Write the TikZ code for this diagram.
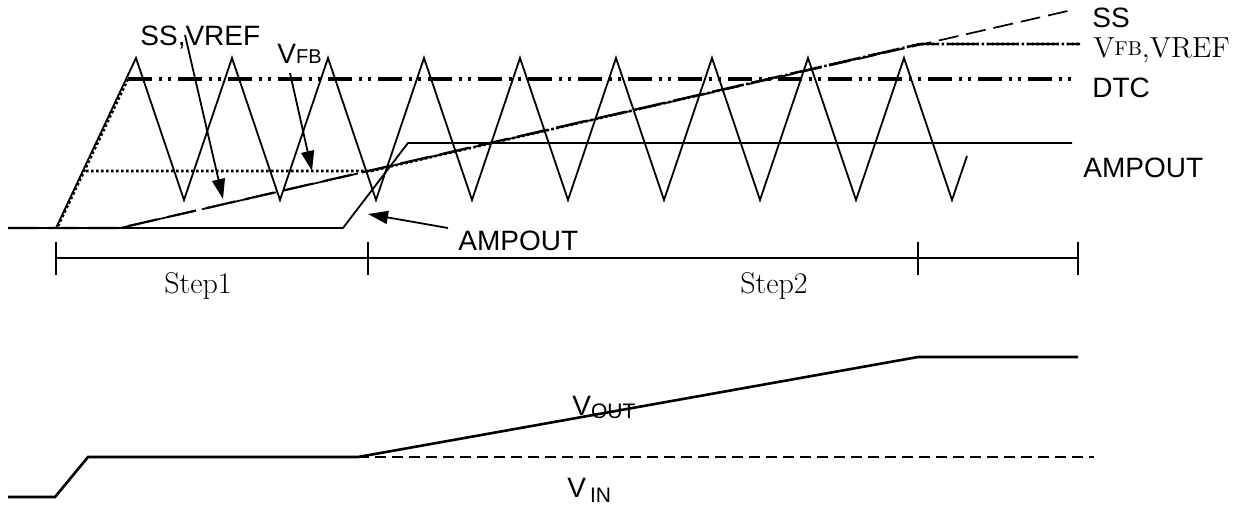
\documentclass[tikz,border=0pt]{standalone}
\usepackage{fontspec}
\newfontfamily\arial{Liberation Sans}
\usetikzlibrary{arrows.meta}
\begin{document}
\begin{tikzpicture}[x=0.5pt,y=-0.5pt,
  wave/.style={line width=0.9pt,line join=miter},
  dtcline/.style={line width=1.7pt,dash pattern=on 12pt off 3.5pt on 1.5pt off 3pt on 1.5pt off 3.5pt},
  ssline/.style={line width=0.85pt,dash pattern=on 10pt off 4pt},
  vrefline/.style={line width=1.1pt,dash pattern=on 15pt off 5pt},
  vfbline/.style={line width=1.3pt,dash pattern=on 1.3pt off 1.2pt},
  tl/.style={line width=0.9pt},
  outline/.style={line width=1.3pt,line join=miter},
  vinline/.style={line width=0.9pt,dash pattern=on 5.5pt off 3pt},
  callout/.style={line width=0.9pt,-{Triangle[length=10pt,width=6.5pt]}},
  sanslbl/.style={inner sep=0pt,anchor=base west,font=\arial\fontsize{14}{16}\selectfont},
  seriflbl/.style={inner sep=0pt,anchor=base west,font=\fontsize{14.5}{17}\selectfont},
  steplbl/.style={inner sep=0pt,anchor=base west,font=\fontsize{15}{18}\selectfont}]
\useasboundingbox (0,0) rectangle (1241,504);

% reference levels
\draw[dtcline] (128,79) -- (1072,79);
\draw[ssline] (8,228) -- (120,228) -- (1072,10);
\draw[vrefline] (8,228) -- (120,228) -- (920,44) -- (1080,44);
\draw[vfbline] (58,226) -- (128,79);
\draw[vfbline] (86,171) -- (371,171) -- (920,44) -- (1080,44);

% AMPOUT
\draw[wave] (8,228) -- (343,228) -- (408,143) -- (1072,143);

% triangle wave
\draw[wave] (56,228) -- (136,58) -- (184,200) -- (232,58) -- (280,200) -- (328,58)
  -- (376,200) -- (424,58) -- (472,200) -- (520,58) -- (568,200) -- (616,58)
  -- (664,200) -- (712,58) -- (760,200) -- (808,58) -- (856,200) -- (904,58)
  -- (952,200) -- (967,156);

% labels top
\node[sanslbl] (lss) at (1092,27) {SS};
\node[seriflbl] (lvfbvref) at (1093,57) {V\raisebox{0.8pt}{\fontsize{10}{10}\selectfont FB},VREF};
\node[sanslbl] (ldtc) at (1092,97) {DTC};
\node[sanslbl] (lamp) at (1083,177) {AMPOUT};
\node[sanslbl] (lssvref) at (140,45) {SS,VREF};
\node[sanslbl] (lvfb) at (277,63) {V{\fontsize{10}{10}\selectfont FB}};
\node[sanslbl] (lamp2) at (458,250) {AMPOUT};

% callouts
\coordinate (sst) at (185,35);
\coordinate (ssh) at (223,199);
\coordinate (vft) at (290,73);
\coordinate (vfh) at (312,171);
\coordinate (amt) at (448,228);
\coordinate (amh) at (368,214);
\draw[callout] (sst) -- (ssh);
\draw[callout] (vft) -- (vfh);
\draw[callout] (amt) -- (amh);

% timeline
\coordinate (t0) at (56,258);
\coordinate (t1) at (368,258);
\coordinate (t2) at (918,258);
\coordinate (t3) at (1078,258);
\draw[tl] (t0) -- (t3);
\foreach \p in {t0,t1,t2,t3} \draw[tl] ([yshift=8.2pt]\p) -- ([yshift=-8.5pt]\p);
\node[steplbl] (s1) at (164,293) {Step1};
\node[steplbl] (s2) at (740,293) {Step2};

% bottom: VIN / VOUT
\draw[outline] (8,497) -- (55,497) -- (88,457) -- (358,457) -- (918,357) -- (1078,357);
\draw[vinline] (358,457) -- (1094,457);
\node[sanslbl] (lvout) at (572,415) {V\raisebox{-1.5pt}{\fontsize{10.5}{11}\selectfont OUT}};
\node[sanslbl] (lvin) at (567,497) {V\hspace{2pt}\raisebox{-2.5pt}{\fontsize{10.5}{11}\selectfont IN}};
\end{tikzpicture}
\end{document}
